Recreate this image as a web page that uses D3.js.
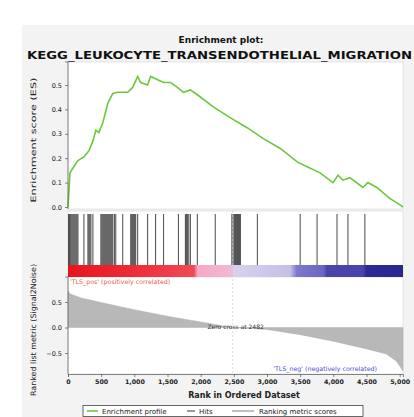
<!DOCTYPE html>
<html><head><meta charset="utf-8">
<script src="https://cdn.jsdelivr.net/npm/d3@7"></script>
<style>html,body{margin:0;padding:0;background:#fff;overflow:hidden}svg{display:block}</style>
</head><body>
<svg id="c" width="414" height="417"></svg>
<script>
// ---- data ----
const titleLines = ["Enrichment plot:", "KEGG_LEUKOCYTE_TRANSENDOTHELIAL_MIGRATION"];
const totalGenes = 5050;
const esRanks  = [0,30,75,150,240,315,375,420,465,525,600,675,750,900,975,1050,1095,1200,1245,1440,1545,1650,1740,1845,1950,2190,2450,2700,2945,3200,3455,3605,3800,3995,4070,4145,4250,4445,4520,4655,4850,5000,5050];
const esValues = [0,0.14,0.16,0.19,0.205,0.23,0.27,0.315,0.305,0.345,0.425,0.465,0.47,0.47,0.49,0.535,0.51,0.50,0.535,0.51,0.51,0.49,0.47,0.48,0.46,0.41,0.365,0.325,0.28,0.24,0.185,0.165,0.14,0.10,0.13,0.11,0.12,0.08,0.10,0.08,0.035,0.01,0];
const hitRanks = [8,20,32,45,60,75,90,105,120,135,150,240,300,315,330,345,375,495,510,525,540,555,570,585,600,615,630,645,660,675,700,720,825,945,960,975,990,1005,1020,1050,1200,1320,1440,1665,1770,1785,1800,1820,1845,1950,2220,2470,2490,2510,2525,2540,2555,2570,2585,2600,2855,3500,3755,4055,4220,4475];
const metricRanks  = [0,30,200,500,1000,1500,2000,2482,3000,3500,4000,4500,4800,4950,5050];
const metricValues = [0.72,0.66,0.58,0.49,0.35,0.22,0.11,0,-0.04,-0.14,-0.27,-0.42,-0.52,-0.66,-0.85];
const zeroCross = 2482;
const xTicks = [0,500,1000,1500,2000,2500,3000,3500,4000,4500,5000];
const esTicks = [0,0.1,0.2,0.3,0.4,0.5];
const metricTicks = [-0.5,0,0.5];
const barStopRanks  = [0,900,1900,1950,2450,2500,3350,3450,3850,3900,4450,4500,5050];
const barStopColors = ["#e8141e","#ec2a34","#f04a58","#f7a8c4","#f2b8d2","#d8d2ee","#c4c0e6","#7c78cc","#6a66c4","#4a44aa","#4a44aa","#2c2a96","#282690"];
const labelPos = "'TLS_pos' (positively correlated)";
const labelNeg = "'TLS_neg' (negatively correlated)";
const legendItems = ["Enrichment profile","Hits","Ranking metric scores"];

// ---- drawing ----
const svg = d3.select("#c");
const F = "'DejaVu Sans', Arial, sans-serif";
const L = 68, R = 403;
const top1 = 62, bot1 = 209, top2 = 211, barTop = 265, barBot = 277, top3 = 277, bot3 = 374;

svg.append("rect").attr("x",22).attr("y",25).attr("width",392).attr("height",392).attr("fill","#f3f3f3");

const x = d3.scaleLinear().domain([0,totalGenes]).range([L,R]);
const yES = d3.scaleLinear().domain([0,0.5]).range([207,85]);
const yM = d3.scaleLinear().domain([-0.5,0.5]).range([353,302]);

// title
svg.append("text").attr("x",221).attr("y",43).attr("text-anchor","middle")
  .attr("font-family",F).attr("font-weight","bold").attr("font-size",9).attr("fill","#111").text(titleLines[0]);
svg.append("text").attr("x",27).attr("y",59)
  .attr("font-family",F).attr("font-weight","bold").attr("font-size",10.5).attr("fill","#111")
  .attr("textLength",385).attr("lengthAdjust","spacingAndGlyphs").text(titleLines[1]);

// panel backgrounds
[[top1,bot1],[top2,barBot],[top3,bot3]].forEach(([a,b])=>{
  svg.append("rect").attr("x",L).attr("y",a).attr("width",R-L).attr("height",b-a)
    .attr("fill","#fff").attr("stroke","#d8d8d8").attr("stroke-width",0.6);
});

// ES curve
const line = d3.line().x((d,i)=>x(esRanks[i])).y(d=>yES(d));
svg.append("path").datum(esValues).attr("d",line).attr("fill","none")
  .attr("stroke","#6cc83c").attr("stroke-width",1.6);

// ES axis
const gES = svg.append("g").attr("transform",`translate(${L},0)`)
  .call(d3.axisLeft(yES).tickValues(esTicks).tickFormat(d3.format(".1f")).tickSize(3));
gES.selectAll("text").attr("font-family",F).attr("font-size",6.5).attr("fill","#222");
gES.selectAll("line,path").attr("stroke","#555").attr("stroke-width",0.7);
gES.select("path").attr("d",`M-3,${top1}H0V${bot1}`);

svg.append("text").attr("transform",`translate(36,140) rotate(-90)`).attr("text-anchor","middle")
  .attr("font-family",F).attr("font-size",7.5).attr("fill","#222")
  .attr("textLength",125).attr("lengthAdjust","spacingAndGlyphs").text("Enrichment score (ES)");

// hits
svg.append("g").selectAll("line").data(hitRanks).join("line")
  .attr("x1",d=>x(d)).attr("x2",d=>x(d)).attr("y1",top2+3).attr("y2",barTop)
  .attr("stroke","#222").attr("stroke-width",1.1).attr("stroke-opacity",0.75);

// color bar
const grad = svg.append("defs").append("linearGradient").attr("id","cb")
  .attr("gradientUnits","userSpaceOnUse").attr("x1",L).attr("x2",R).attr("y1",0).attr("y2",0);
barStopRanks.forEach((r,i)=>grad.append("stop").attr("offset",(x(r)-L)/(R-L)).attr("stop-color",barStopColors[i]));
svg.append("rect").attr("x",L).attr("y",barTop).attr("width",R-L).attr("height",barBot-barTop).attr("fill","url(#cb)");

// ranked metric area
const area = d3.area().x((d,i)=>x(metricRanks[i])).y0(yM(0)).y1(d=>yM(d));
svg.append("path").datum(metricValues).attr("d",area).attr("fill","#b8b8b8").attr("stroke","#a8a8a8").attr("stroke-width",0.4);

// zero cross line
svg.append("line").attr("x1",x(zeroCross)).attr("x2",x(zeroCross)).attr("y1",top2).attr("y2",bot3)
  .attr("stroke","#c8c8c8").attr("stroke-width",0.6).attr("stroke-dasharray","2,2");
svg.append("text").attr("x",x(zeroCross)+3).attr("y",329).attr("text-anchor","middle")
  .attr("font-family",F).attr("font-size",6).attr("fill","#333").text("Zero cross at " + zeroCross);

svg.append("text").attr("x",L+2).attr("y",284).attr("font-family",F).attr("font-size",6.3)
  .attr("fill","#ee5a48").text(labelPos);
svg.append("text").attr("x",377).attr("y",371).attr("text-anchor","end").attr("font-family",F).attr("font-size",6.3)
  .attr("fill","#4a4ad0").text(labelNeg);

// metric axis
const gM = svg.append("g").attr("transform",`translate(${L},0)`)
  .call(d3.axisLeft(yM).tickValues(metricTicks).tickFormat(d3.format(".1f")).tickSize(3));
gM.selectAll("text").attr("font-family",F).attr("font-size",6.5).attr("fill","#222");
gM.selectAll("line,path").attr("stroke","#555").attr("stroke-width",0.7);
gM.select("path").attr("d",`M-3,${top3}H0V${bot3}`);

svg.append("text").attr("transform",`translate(36,330) rotate(-90)`).attr("text-anchor","middle")
  .attr("font-family",F).attr("font-size",7.5).attr("fill","#222")
  .attr("textLength",132).attr("lengthAdjust","spacingAndGlyphs").text("Ranked list metric (Signal2Noise)");

// x axis
const gX = svg.append("g").attr("transform",`translate(0,${bot3})`)
  .call(d3.axisBottom(x).tickValues(xTicks).tickFormat(d3.format(",")).tickSize(3));
gX.selectAll("text").attr("font-family",F).attr("font-size",6.3).attr("fill","#222").attr("font-weight","bold");
gX.selectAll("line,path").attr("stroke","#555").attr("stroke-width",0.7);
svg.append("text").attr("x",244).attr("y",398).attr("text-anchor","middle")
  .attr("font-family",F).attr("font-weight","bold").attr("font-size",8).attr("fill","#222").text("Rank in Ordered Dataset");

// legend
svg.append("rect").attr("x",83).attr("y",405.5).attr("width",280).attr("height",11)
  .attr("fill","#fff").attr("stroke","#444").attr("stroke-width",0.8);
const lg = svg.append("g");
lg.append("line").attr("x1",87).attr("x2",98).attr("y1",411).attr("y2",411).attr("stroke","#6cc83c").attr("stroke-width",1.6);
lg.append("text").attr("x",102).attr("y",413.5).attr("font-family",F).attr("font-size",7).attr("fill","#222").text(legendItems[0]);
lg.append("line").attr("x1",187).attr("x2",195).attr("y1",411).attr("y2",411).attr("stroke","#222").attr("stroke-width",0.9);
lg.append("text").attr("x",199).attr("y",413.5).attr("font-family",F).attr("font-size",7).attr("fill","#222").text(legendItems[1]);
lg.append("line").attr("x1",232).attr("x2",254).attr("y1",411).attr("y2",411).attr("stroke","#b0b0b0").attr("stroke-width",1.6);
lg.append("text").attr("x",259).attr("y",413.5).attr("font-family",F).attr("font-size",7).attr("fill","#222").text(legendItems[2]);
</script>
</body></html>
